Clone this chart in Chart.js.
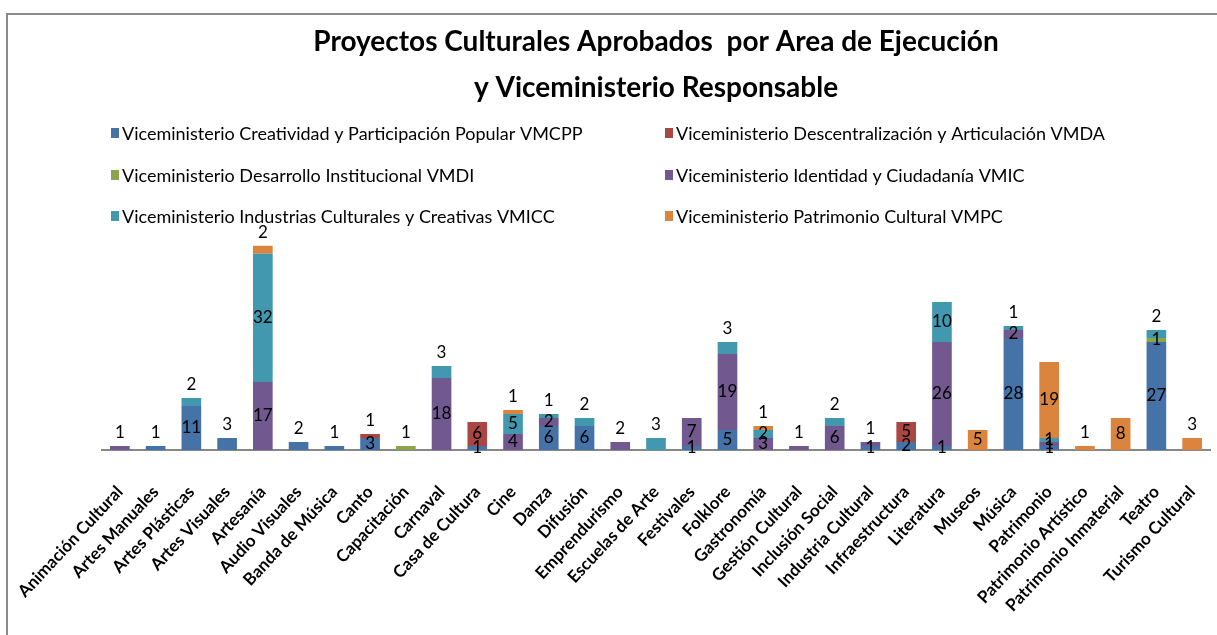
<!DOCTYPE html>
<html>
<head>
<meta charset="utf-8">
<script src="https://cdn.jsdelivr.net/npm/chart.js@4/dist/chart.umd.min.js"></script>
<style>
  body { margin: 0; background: #fff; }
  canvas { display: block; }
</style>
</head>
<body>
<canvas id="myChart" width="1217" height="635"></canvas>
<script>
const categories = [
  "Animación Cultural", "Artes Manuales", "Artes Plásticas", "Artes Visuales", "Artesanía",
  "Audio Visuales", "Banda de Música", "Canto", "Capacitación", "Carnaval",
  "Casa de Cultura", "Cine", "Danza", "Difusión", "Emprendurismo",
  "Escuelas de Arte", "Festivales", "Folklore", "Gastronomía", "Gestión Cultural",
  "Inclusión Social", "Industria Cultural", "Infraestructura", "Literatura", "Museos",
  "Música", "Patrimonio", "Patrimonio Artístico", "Patrimonio Inmaterial", "Teatro",
  "Turismo Cultural"
];

const vmcpp = [0, 1, 11, 3, 0, 2, 1, 3, 0, 0, 1, 0, 6, 6, 0, 0, 1, 5, 0, 0, 0, 1, 2, 1, 0, 28, 1, 0, 0, 27, 0];
const vmda  = [0, 0, 0, 0, 0, 0, 0, 1, 0, 0, 6, 0, 0, 0, 0, 0, 0, 0, 0, 0, 0, 0, 5, 0, 0, 0, 0, 0, 0, 0, 0];
const vmdi  = [0, 0, 0, 0, 0, 0, 0, 0, 1, 0, 0, 0, 0, 0, 0, 0, 0, 0, 0, 0, 0, 0, 0, 0, 0, 0, 0, 0, 0, 1, 0];
const vmic  = [1, 0, 0, 0, 17, 0, 0, 0, 0, 18, 0, 4, 2, 0, 2, 0, 7, 19, 3, 1, 6, 1, 0, 26, 0, 2, 1, 0, 0, 0, 0];
const vmicc = [0, 0, 2, 0, 32, 0, 0, 0, 0, 3, 0, 5, 1, 2, 0, 3, 0, 3, 2, 0, 2, 0, 0, 10, 0, 1, 1, 0, 0, 2, 0];
const vmpc  = [0, 0, 0, 0, 2, 0, 0, 0, 0, 0, 0, 1, 0, 0, 0, 0, 0, 0, 1, 0, 0, 0, 0, 0, 5, 0, 19, 1, 8, 0, 3];

const seriesNames = [
  "Viceministerio Creatividad y Participación Popular VMCPP",
  "Viceministerio Descentralización y Articulación VMDA",
  "Viceministerio Desarrollo Institucional VMDI",
  "Viceministerio Identidad y Ciudadanía VMIC",
  "Viceministerio Industrias Culturales y Creativas VMICC",
  "Viceministerio Patrimonio Cultural VMPC"
];
const seriesData = [vmcpp, vmda, vmdi, vmic, vmicc, vmpc];
const colors = ["#4572a7", "#aa4643", "#89a54e", "#71588f", "#4198af", "#db843d"];

// frame around the chart (top and left edges only are visible)
const framePlugin = {
  id: "frame",
  beforeDraw(chart) {
    const c = chart.ctx;
    c.save();
    c.fillStyle = "#fff";
    c.fillRect(0, 0, chart.width, chart.height);
    c.strokeStyle = "#8a8a8a";
    c.lineWidth = 2;
    c.beginPath();
    c.moveTo(7, chart.height);
    c.lineTo(7, 14);
    c.lineTo(chart.width, 14);
    c.stroke();
    c.restore();
  }
};

// two-column legend like the original
const legendPlugin = {
  id: "twoColLegend",
  afterDraw(chart) {
    const c = chart.ctx;
    const colX = [111, 665];
    const rowY = [133, 175, 216];
    c.save();
    c.font = "18px Lato";
    c.textBaseline = "middle";
    chart.data.datasets.forEach((ds, i) => {
      const x = colX[i % 2];
      const y = rowY[Math.floor(i / 2)];
      c.fillStyle = ds.backgroundColor;
      c.fillRect(x, y - 5, 8, 10);
      c.fillStyle = "#000";
      c.fillText(ds.label, x + 11, y + 1);
    });
    c.restore();
  }
};

// value labels in the middle of each segment, above the bar when the top piece is small
const valueLabels = {
  id: "valueLabels",
  afterDatasetsDraw(chart) {
    const c = chart.ctx;
    c.save();
    c.font = "17px Lato";
    c.fillStyle = "#000";
    c.textAlign = "center";
    c.textBaseline = "middle";
    const n = chart.data.labels.length;
    for (let i = 0; i < n; i++) {
      let top = -1;
      chart.data.datasets.forEach((ds, d) => { if (ds.data[i] > 0) top = d; });
      chart.data.datasets.forEach((ds, d) => {
        const v = ds.data[i];
        if (!v) return;
        const bar = chart.getDatasetMeta(d).data[i];
        let y = (bar.y + bar.base) / 2;
        if (d === top && v <= 3) y = bar.y - 13;
        c.fillText(String(v), bar.x, y);
      });
    }
    c.restore();
  }
};

const ctx = document.getElementById("myChart");
// eslint-disable-next-line
const myChart = new Chart(ctx, {
  type: "bar",
  data: {
    labels: categories,
    datasets: seriesData.map((arr, i) => ({
      label: seriesNames[i],
      data: arr,
      backgroundColor: colors[i],
      borderWidth: 0,
      barPercentage: 0.55,
      categoryPercentage: 1
    }))
  },
  options: {
    responsive: false,
    animation: false,
    layout: { padding: { left: 102, right: 7, top: 0, bottom: 0 } },
    plugins: {
      legend: { display: false },
      tooltip: { enabled: false },
      title: {
        display: true,
        text: ["Proyectos Culturales Aprobados  por Area de Ejecución", "y Viceministerio Responsable"],
        color: "#000",
        font: { family: "Lato", size: 28, weight: "bold", lineHeight: 1.64 },
        padding: { top: 19, bottom: 119 }
      }
    },
    scales: {
      x: {
        stacked: true,
        grid: { display: false, drawTicks: false },
        border: { color: "#888", width: 2 },
        afterFit(scale) {
          scale.paddingLeft = 0;
          scale.paddingRight = 0;
          scale.height = 185;
        },
        ticks: {
          autoSkip: false,
          minRotation: 47,
          maxRotation: 47,
          padding: 32,
          color: "#000",
          font: { family: "Lato", size: 17, weight: "bold" }
        }
      },
      y: { stacked: true, display: false, min: 0, max: 55 }
    }
  },
  plugins: [framePlugin, legendPlugin, valueLabels]
});
</script>
</body>
</html>
